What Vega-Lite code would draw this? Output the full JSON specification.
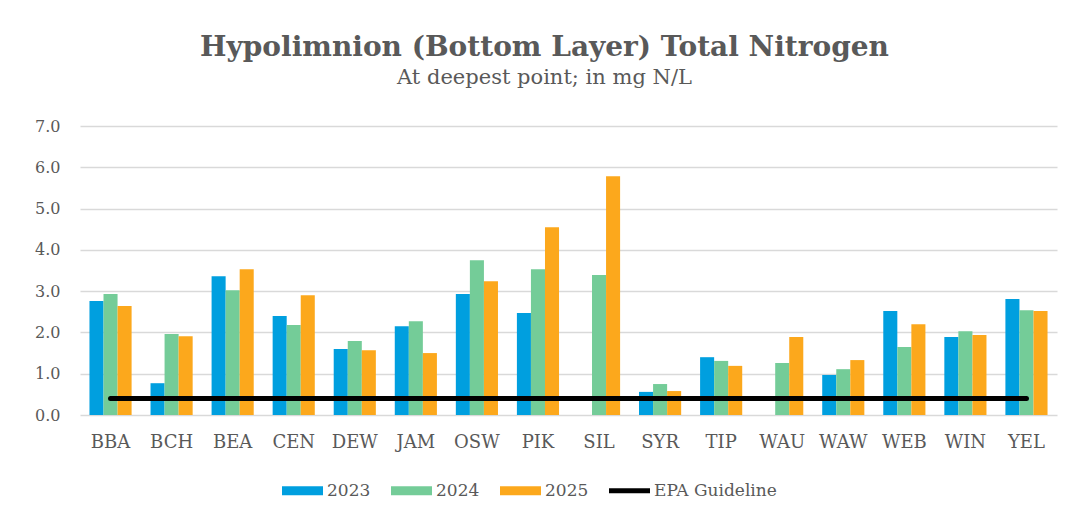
{
  "$schema": "https://vega.github.io/schema/vega-lite/v6.json",
  "width": 977,
  "height": 289,
  "autosize": {"type": "none"},
  "padding": {"left": 80, "top": 126, "right": 32, "bottom": 105},
  "background": "white",
  "config": {"view": {"stroke": null}},
  "title": {
    "text": "Hypolimnion (Bottom Layer) Total Nitrogen",
    "subtitle": "At deepest point; in mg N/L",
    "font": "DejaVu Serif",
    "fontSize": 28,
    "fontWeight": "bold",
    "color": "#595959",
    "subtitleFont": "DejaVu Serif",
    "subtitleFontSize": 21,
    "subtitleColor": "#595959",
    "anchor": "middle",
    "dx": -24,
    "offset": 30,
    "subtitlePadding": 5
  },
  "datasets": {
    "bars": [
      {"lake": "BBA", "year": "2023", "value": 2.76},
      {"lake": "BBA", "year": "2024", "value": 2.93},
      {"lake": "BBA", "year": "2025", "value": 2.64},
      {"lake": "BCH", "year": "2023", "value": 0.77},
      {"lake": "BCH", "year": "2024", "value": 1.96},
      {"lake": "BCH", "year": "2025", "value": 1.91},
      {"lake": "BEA", "year": "2023", "value": 3.36},
      {"lake": "BEA", "year": "2024", "value": 3.02},
      {"lake": "BEA", "year": "2025", "value": 3.53},
      {"lake": "CEN", "year": "2023", "value": 2.40},
      {"lake": "CEN", "year": "2024", "value": 2.18},
      {"lake": "CEN", "year": "2025", "value": 2.90},
      {"lake": "DEW", "year": "2023", "value": 1.60},
      {"lake": "DEW", "year": "2024", "value": 1.79},
      {"lake": "DEW", "year": "2025", "value": 1.57},
      {"lake": "JAM", "year": "2023", "value": 2.15},
      {"lake": "JAM", "year": "2024", "value": 2.27},
      {"lake": "JAM", "year": "2025", "value": 1.50},
      {"lake": "OSW", "year": "2023", "value": 2.93},
      {"lake": "OSW", "year": "2024", "value": 3.75},
      {"lake": "OSW", "year": "2025", "value": 3.24},
      {"lake": "PIK", "year": "2023", "value": 2.47},
      {"lake": "PIK", "year": "2024", "value": 3.53},
      {"lake": "PIK", "year": "2025", "value": 4.55},
      {"lake": "SIL", "year": "2024", "value": 3.39},
      {"lake": "SIL", "year": "2025", "value": 5.78},
      {"lake": "SYR", "year": "2023", "value": 0.56},
      {"lake": "SYR", "year": "2024", "value": 0.75},
      {"lake": "SYR", "year": "2025", "value": 0.58},
      {"lake": "TIP", "year": "2023", "value": 1.40},
      {"lake": "TIP", "year": "2024", "value": 1.31},
      {"lake": "TIP", "year": "2025", "value": 1.19},
      {"lake": "WAU", "year": "2024", "value": 1.26},
      {"lake": "WAU", "year": "2025", "value": 1.89},
      {"lake": "WAW", "year": "2023", "value": 0.97},
      {"lake": "WAW", "year": "2024", "value": 1.11},
      {"lake": "WAW", "year": "2025", "value": 1.33},
      {"lake": "WEB", "year": "2023", "value": 2.52},
      {"lake": "WEB", "year": "2024", "value": 1.65},
      {"lake": "WEB", "year": "2025", "value": 2.20},
      {"lake": "WIN", "year": "2023", "value": 1.89},
      {"lake": "WIN", "year": "2024", "value": 2.03},
      {"lake": "WIN", "year": "2025", "value": 1.94},
      {"lake": "YEL", "year": "2023", "value": 2.81},
      {"lake": "YEL", "year": "2024", "value": 2.54},
      {"lake": "YEL", "year": "2025", "value": 2.52}
    ],
    "epa": [
      {"lake": "BBA", "guideline": 0.4},
      {"lake": "BCH", "guideline": 0.4},
      {"lake": "BEA", "guideline": 0.4},
      {"lake": "CEN", "guideline": 0.4},
      {"lake": "DEW", "guideline": 0.4},
      {"lake": "JAM", "guideline": 0.4},
      {"lake": "OSW", "guideline": 0.4},
      {"lake": "PIK", "guideline": 0.4},
      {"lake": "SIL", "guideline": 0.4},
      {"lake": "SYR", "guideline": 0.4},
      {"lake": "TIP", "guideline": 0.4},
      {"lake": "WAU", "guideline": 0.4},
      {"lake": "WAW", "guideline": 0.4},
      {"lake": "WEB", "guideline": 0.4},
      {"lake": "WIN", "guideline": 0.4},
      {"lake": "YEL", "guideline": 0.4}
    ]
  },
  "layer": [
    {
      "data": {"name": "bars"},
      "mark": {"type": "bar"},
      "encoding": {
        "x": {
          "field": "lake",
          "type": "nominal",
          "scale": {
            "domain": ["BBA","BCH","BEA","CEN","DEW","JAM","OSW","PIK","SIL","SYR","TIP","WAU","WAW","WEB","WIN","YEL"],
            "paddingInner": 0.31,
            "paddingOuter": 0.155
          },
          "axis": {
            "title": null,
            "domain": false,
            "ticks": false,
            "labelAngle": 0,
            "labelPadding": 18,
            "labelFont": "DejaVu Serif",
            "labelFontSize": 18,
            "labelColor": "#595959"
          }
        },
        "xOffset": {"field": "year", "type": "nominal", "scale": {"paddingInner": 0, "paddingOuter": 0}},
        "y": {
          "field": "value",
          "type": "quantitative",
          "scale": {"domain": [0, 7]},
          "axis": {
            "title": null,
            "domain": false,
            "ticks": false,
            "values": [0, 1, 2, 3, 4, 5, 6, 7],
            "format": ".1f",
            "labelFont": "DejaVu Serif",
            "labelFontSize": 16,
            "labelColor": "#595959",
            "labelPadding": 20,
            "grid": true,
            "gridColor": "#d9d9d9",
            "gridWidth": 1.5
          }
        },
        "color": {
          "field": "year",
          "type": "nominal",
          "scale": {
            "domain": ["2023", "2024", "2025", "EPA Guideline"],
            "range": ["#009fdf", "#74cc98", "#fca81c", "#000000"]
          },
          "legend": {
            "title": null,
            "orient": "none",
            "direction": "horizontal",
            "legendX": 202,
            "legendY": 344,
            "labelFont": "DejaVu Serif",
            "labelFontSize": 17,
            "labelColor": "#595959",
            "symbolSize": 1681,
            "labelOffset": 4,
            "columnPadding": 20,
            "encode": {
              "symbols": {
                "update": {
                  "shape": {"signal": "datum.value === 'EPA Guideline' ? 'M-1,-0.12H1V0.12H-1Z' : 'M-1,-0.22H1V0.22H-1Z'"},
                  "fill": {"signal": "scale('color', datum.value)"},
                  "stroke": {"value": "transparent"},
                  "strokeWidth": {"value": 0},
                  "opacity": {"value": 1}
                }
              }
            }
          }
        }
      }
    },
    {
      "data": {"name": "epa"},
      "mark": {"type": "line", "strokeWidth": 5, "strokeCap": "round"},
      "encoding": {
        "x": {
          "field": "lake",
          "type": "nominal",
          "scale": {
            "domain": ["BBA","BCH","BEA","CEN","DEW","JAM","OSW","PIK","SIL","SYR","TIP","WAU","WAW","WEB","WIN","YEL"]
          }
        },
        "y": {"field": "guideline", "type": "quantitative"},
        "color": {"datum": "EPA Guideline"}
      }
    }
  ]
}
